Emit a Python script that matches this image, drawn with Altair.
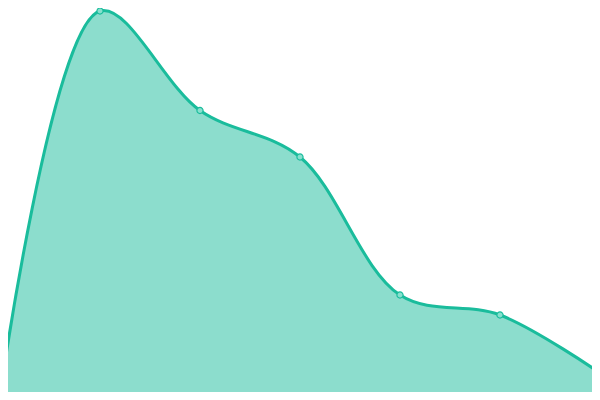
import altair as alt
import pandas as pd

xs = [0, 1, 2, 3, 4, 5, 6]
values = [4, 389, 289.5, 243, 105, 85, 27]

df = pd.DataFrame({"x": xs, "v": values})

xenc = alt.X("x:Q", scale=alt.Scale(domain=[0.08, 5.92], nice=False, zero=False), axis=None)
yenc = alt.Y("v:Q", scale=alt.Scale(domain=[8, 392], nice=False, zero=False), axis=None)

base = alt.Chart(df).encode(x=xenc, y=yenc)
area = base.mark_area(interpolate="catmull-rom", color="#1abc9c", fillOpacity=0.5).encode(y2=alt.datum(0))
line = base.mark_line(interpolate="catmull-rom", color="#1abc9c", strokeWidth=3)
pts = base.mark_point(filled=True, fill="#88e0ce", stroke="#1abc9c", strokeWidth=1.2, size=38, opacity=1)

chart = alt.layer(area, line, pts).properties(
    width=584, height=384, padding=0, autosize="none"
).configure_view(stroke=None)

chart.save("out.html", embed_options={"renderer": "svg", "actions": False})
